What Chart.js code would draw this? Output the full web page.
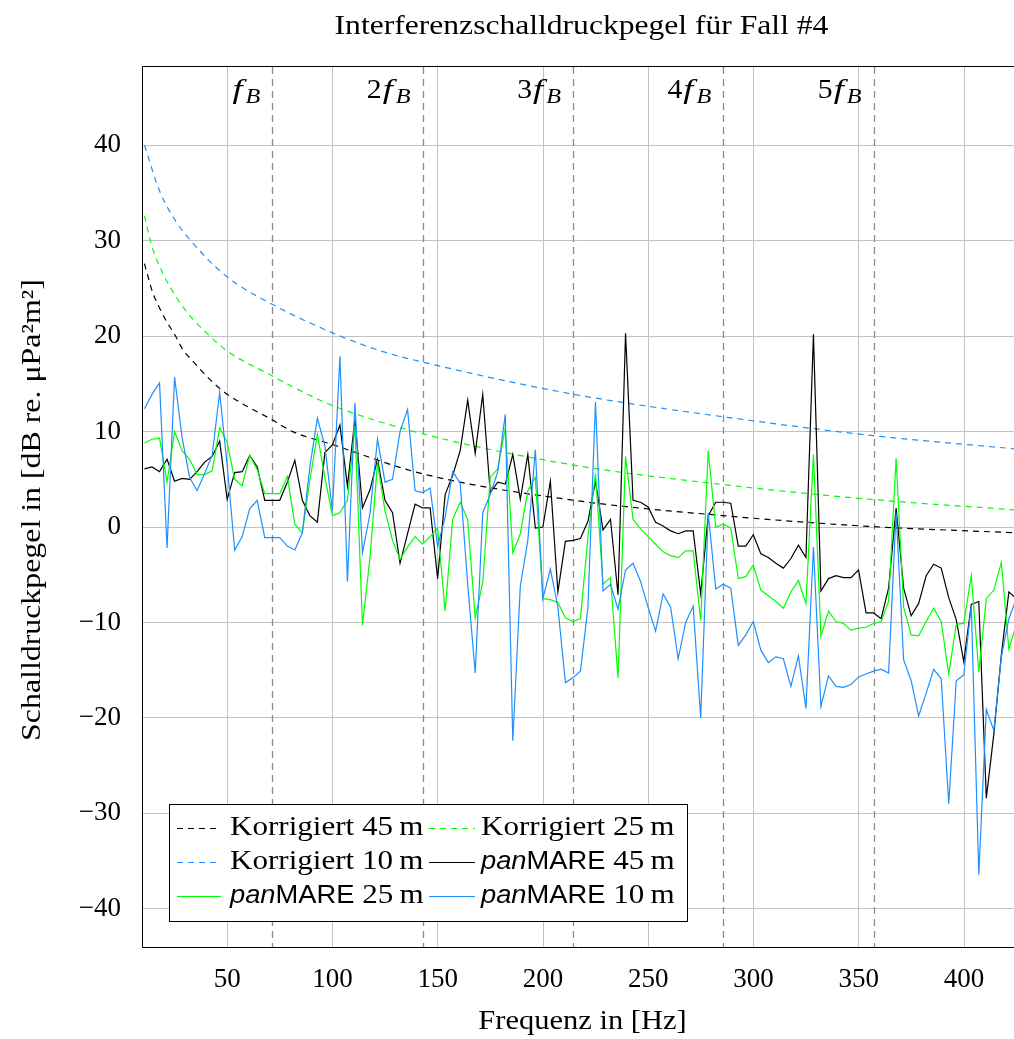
<!DOCTYPE html>
<html>
<head>
<meta charset="utf-8">
<script src="https://cdn.jsdelivr.net/npm/chart.js@4/dist/chart.umd.min.js"></script>
<style>
  html, body { margin: 0; padding: 0; background: #ffffff; }
  canvas { display: block; }
</style>
</head>
<body>
<canvas id="chart" width="1014" height="1039"></canvas>
<script>
// ---- texts ----
const titleText = 'Interferenzschalldruckpegel für Fall #4';
const xTitle = 'Frequenz in [Hz]';
const yTitle = 'Schalldruckpegel in [dB re. μPa²m²]';

// ---- frequency bins of the panMARE spectra [Hz] ----
const freq = [
  10.71, 14.28, 17.85, 21.42, 24.99, 28.56, 32.13, 35.70, 39.27, 42.84,
  46.41, 49.98, 53.55, 57.12, 60.69, 64.26, 67.83, 71.40, 74.97, 78.54,
  82.11, 85.68, 89.25, 92.82, 96.39, 99.96, 103.53, 107.10, 110.67, 114.24,
  117.81, 121.38, 124.95, 128.52, 132.09, 135.66, 139.23, 142.80, 146.37, 149.94,
  153.51, 157.08, 160.65, 164.22, 167.79, 171.36, 174.93, 178.50, 182.07, 185.64,
  189.21, 192.78, 196.35, 199.92, 203.49, 207.06, 210.63, 214.20, 217.77, 221.34,
  224.91, 228.48, 232.05, 235.62, 239.19, 242.76, 246.33, 249.90, 253.47, 257.04,
  260.61, 264.18, 267.75, 271.32, 274.89, 278.46, 282.03, 285.60, 289.17, 292.74,
  296.31, 299.88, 303.45, 307.02, 310.59, 314.16, 317.73, 321.30, 324.87, 328.44,
  332.01, 335.58, 339.15, 342.72, 346.29, 349.86, 353.43, 357.00, 360.57, 364.14,
  367.71, 371.28, 374.85, 378.42, 381.99, 385.56, 389.13, 392.70, 396.27, 399.84,
  403.41, 406.98, 410.55, 414.12, 417.69, 421.26, 424.83
];

// ---- panMARE levels [dB] ----
const panmare45 = [
  6.1, 6.3, 5.8, 7.1, 4.8, 5.1, 5.0, 5.8, 6.8, 7.4,
  9.0, 2.9, 5.7, 5.8, 7.5, 6.3, 2.8, 2.8, 2.8, 4.7,
  7.0, 2.8, 1.2, 0.5, 7.8, 8.6, 10.7, 4.3, 11.3, 2.0,
  3.9, 7.1, 2.8, 1.5, -3.8, -0.7, 2.4, 2.0, 2.0, -5.4,
  3.4, 5.4, 8.0, 13.3, 7.7, 13.9, 3.6, 4.7, 4.5, 7.6,
  2.9, 7.6, -0.1, 0.0, 4.8, -6.8, -1.5, -1.4, -1.2, 0.6,
  4.8, -0.3, 0.8, -7.1, 20.3, 2.8, 2.6, 2.1, 0.5, 0.1,
  -0.4, -0.7, -0.4, -0.4, -7.0, 1.2, 2.6, 2.6, 2.5, -2.0,
  -2.0, -0.8, -2.8, -3.2, -3.8, -4.3, -3.3, -1.9, -3.2, 20.2,
  -6.7, -5.4, -5.1, -5.3, -5.3, -4.5, -9.0, -9.0, -9.6, -6.4,
  2.0, -6.4, -9.3, -8.0, -5.1, -3.9, -4.3, -7.4, -9.7, -14.1,
  -8.1, -7.8, -28.4, -21.7, -13.4, -6.8, -7.5
];
const panmare25 = [
  8.8, 9.2, 9.3, 4.7, 10.0, 8.0, 7.1, 5.5, 5.5, 5.9,
  10.4, 8.9, 5.0, 4.3, 7.5, 6.0, 3.5, 3.5, 3.5, 5.3,
  0.3, -0.6, 4.9, 9.7, 5.2, 1.2, 1.5, 2.8, 10.6, -10.3,
  -3.2, 6.7, 1.7, -1.4, -3.4, -2.1, -1.0, -1.8, -1.0, -0.1,
  -8.8, 0.8, 2.6, 0.8, -9.5, -5.8, 5.2, 6.1, 10.4, -2.7,
  -0.7, 3.8, 5.2, -7.5, -7.6, -7.9, -9.5, -9.9, -9.6, -1.0,
  5.6, -6.0, -5.3, -15.8, 7.4, 0.8, -0.2, -1.0, -1.8, -2.6,
  -3.0, -3.2, -2.5, -2.5, -9.8, 8.0, 0.0, 0.3, -0.1, -5.4,
  -5.2, -4.0, -6.6, -7.2, -7.8, -8.5, -6.8, -5.6, -8.0, 7.6,
  -11.4, -8.8, -9.9, -10.1, -10.8, -10.6, -10.5, -10.1, -9.9, -7.8,
  7.2, -8.4, -11.3, -11.4, -9.9, -8.5, -9.9, -15.4, -10.2, -10.1,
  -5.1, -15.2, -7.5, -6.6, -3.7, -12.8, -10.2
];
const panmare10 = [
  12.4, 13.9, 15.1, -2.2, 15.7, 9.4, 5.2, 3.8, 5.6, 7.5,
  14.1, 6.5, -2.4, -1.0, 1.9, 2.8, -1.1, -1.1, -1.1, -2.0,
  -2.4, -0.6, 6.3, 11.4, 8.5, 1.7, 17.9, -5.7, 13.0, -2.7,
  1.4, 9.2, 4.7, 5.0, 10.0, 12.3, 3.8, 3.6, 4.1, -2.0,
  1.0, 5.8, 4.6, -6.0, -15.3, 1.5, 3.4, 5.8, 11.8, -22.4,
  -6.2, -1.4, 8.1, -7.5, -4.4, -8.4, -16.3, -15.8, -15.1, -8.4,
  13.1, -6.7, -6.0, -8.6, -4.5, -3.8, -5.7, -8.4, -10.9, -7.0,
  -8.4, -13.8, -10.0, -8.3, -20.0, 1.5, -6.5, -6.0, -6.4, -12.4,
  -11.3, -9.9, -12.9, -14.2, -13.6, -13.8, -16.7, -13.5, -19.0, -2.1,
  -18.8, -15.6, -16.7, -16.8, -16.5, -15.7, -15.4, -15.1, -14.9, -15.3,
  1.5, -13.9, -16.1, -19.8, -17.4, -14.9, -15.9, -29.0, -16.1, -15.5,
  -8.2, -36.4, -19.1, -21.3, -13.6, -9.6, -7.5
];

// ---- corrected levels (smooth curves) ----
const korr45Freq  = [10.7, 12.3, 14.7, 17.1, 21.0, 25.0, 28.9, 33.6, 41.6, 49.4, 57.4, 70.8, 81.1, 99.2, 142.4, 214.7, 285.2, 352.3, 423.7];
const korr45Level = [27.6, 26.3, 24.5, 23.3, 21.6, 20.2, 18.6, 17.4, 15.5, 14.0, 12.9, 11.3, 10.0, 8.7, 5.6, 2.8, 1.2, 0.1, -0.6];
const korr25Freq  = [10.7, 14.7, 19.4, 24.1, 28.9, 34.4, 39.9, 44.7, 50.2, 70.8, 81.1, 99.2, 142.4, 214.3, 287.4, 355.8, 423.7];
const korr25Level = [32.6, 29.1, 26.6, 24.7, 23.1, 21.6, 20.4, 19.4, 18.4, 15.9, 14.7, 12.8, 9.8, 6.5, 4.4, 2.9, 1.8];
const korr10Freq  = [10.7, 17.9, 25.7, 32.3, 49.4, 70.0, 101.6, 123.7, 148.3, 214.7, 287.4, 355.8, 423.7];
const korr10Level = [40.0, 35.2, 32.0, 30.1, 26.3, 23.5, 20.2, 18.4, 17.0, 13.9, 11.5, 9.6, 8.2];

// ---- blade frequency harmonics ----
const harmonicOrder = [1, 2, 3, 4, 5];
const harmonicFreq  = [71.4, 142.8, 214.2, 285.6, 357.0];

// ---- axis ticks ----
const xTicks = [50, 100, 150, 200, 250, 300, 350, 400];
const yTicks = [-40, -30, -20, -10, 0, 10, 20, 30, 40];

// ---- styling ----
const SERIF = '"Liberation Serif", "Times New Roman", serif';
const SANS = '"Liberation Sans", Arial, sans-serif';
const FS = 27;
const STRETCH = 1.15;          // widen the serif face a little
const BLACK = '#000000';
const GREEN = '#00ff00';
const BLUE = '#1e8fff';

const toPoints = (xs, ys) => xs.map((x, i) => ({ x, y: ys[i] }));
const fmt = v => (v < 0 ? '\u2212' + Math.abs(v) : String(v));

const seriesDefs = [
  { label: 'Korrigiert 45\u2009m', xs: korr45Freq, ys: korr45Level, color: BLACK, dash: [6, 5], smooth: true },
  { label: 'Korrigiert 25\u2009m', xs: korr25Freq, ys: korr25Level, color: GREEN, dash: [6, 5], smooth: true },
  { label: 'Korrigiert 10\u2009m', xs: korr10Freq, ys: korr10Level, color: BLUE, dash: [6, 5], smooth: true },
  { label: 'panMARE 45\u2009m', xs: freq, ys: panmare45, color: BLACK, dash: [], smooth: false },
  { label: 'panMARE 25\u2009m', xs: freq, ys: panmare25, color: GREEN, dash: [], smooth: false },
  { label: 'panMARE 10\u2009m', xs: freq, ys: panmare10, color: BLUE, dash: [], smooth: false }
];

const datasets = seriesDefs.map((s, i) => ({
  label: s.label,
  data: toPoints(s.xs, s.ys),
  borderColor: s.color,
  backgroundColor: s.color,
  borderWidth: 1.2,
  borderDash: s.dash,
  pointRadius: 0,
  fill: false,
  tension: 0,
  cubicInterpolationMode: s.smooth ? 'monotone' : 'default',
  clip: 0,
  order: seriesDefs.length - 1 - i
}));

// split a legend label into its typographic parts
function labelParts(label) {
  if (label.startsWith('panMARE')) {
    return [
      { t: 'pan', f: `italic ${FS - 1}px ${SANS}`, sx: 1.05 },
      { t: 'MARE', f: `${FS - 1}px ${SANS}`, sx: 1.05 },
      { t: label.slice(7), f: `${FS}px ${SERIF}`, sx: STRETCH }
    ];
  }
  return [{ t: label, f: `${FS}px ${SERIF}`, sx: STRETCH }];
}

// draw text parts left to right, each widened by its own factor
function drawParts(ctx, parts, x, y) {
  let cx = x;
  parts.forEach(p => {
    ctx.font = p.f;
    const w = ctx.measureText(p.t).width * p.sx;
    ctx.save();
    ctx.translate(cx, y + (p.dy || 0));
    ctx.scale(p.sx, 1);
    ctx.textAlign = 'left';
    ctx.fillText(p.t, 0, 0);
    ctx.restore();
    cx += w + (p.gap || 0);
  });
  return cx - x;
}

function partsWidth(ctx, parts) {
  let w = 0;
  parts.forEach(p => { ctx.font = p.f; w += ctx.measureText(p.t).width * p.sx + (p.gap || 0); });
  return w;
}

function drawCentered(ctx, text, cx, cy, font, sx, rotation) {
  ctx.save();
  ctx.translate(cx, cy);
  if (rotation) ctx.rotate(rotation);
  ctx.scale(sx, 1);
  ctx.font = font;
  ctx.textAlign = 'center';
  ctx.textBaseline = 'middle';
  ctx.fillText(text, 0, 0);
  ctx.restore();
}

const decor = {
  id: 'decor',
  beforeDatasetsDraw(chart) {
    const { ctx, chartArea: ca, scales: { x } } = chart;
    ctx.save();
    ctx.beginPath();
    ctx.rect(ca.left, ca.top, ca.right - ca.left, ca.bottom - ca.top);
    ctx.clip();
    ctx.strokeStyle = '#8a8a8a';
    ctx.lineWidth = 1.3;
    ctx.setLineDash([7, 5]);
    harmonicFreq.forEach(f => {
      const px = Math.round(x.getPixelForValue(f)) + 0.5;
      ctx.beginPath();
      ctx.moveTo(px, ca.top);
      ctx.lineTo(px, ca.bottom);
      ctx.stroke();
    });
    ctx.restore();
  },
  afterDatasetsDraw(chart) {
    const { ctx, chartArea: ca, scales: { x } } = chart;
    ctx.save();
    ctx.fillStyle = BLACK;

    // harmonic labels n·f_B
    ctx.textBaseline = 'alphabetic';
    harmonicFreq.forEach((f, i) => {
      const n = harmonicOrder[i];
      const parts = [];
      if (n > 1) parts.push({ t: String(n), f: `${FS}px ${SERIF}`, sx: 1.1, gap: 1 });
      parts.push({ t: 'f', f: `italic ${FS + 1}px ${SERIF}`, sx: 1.3, gap: 3 });
      parts.push({ t: 'B', f: `italic ${FS - 5}px ${SERIF}`, sx: 1.1, dy: 5 });
      const w = partsWidth(ctx, parts);
      drawParts(ctx, parts, x.getPixelForValue(f) - 12 - w, 98);
    });

    // legend
    const box = { left: 169.5, top: 804.5, right: 687.5, bottom: 921.5 };
    ctx.fillStyle = '#ffffff';
    ctx.fillRect(box.left, box.top, box.right - box.left, box.bottom - box.top);
    ctx.strokeStyle = BLACK;
    ctx.lineWidth = 1;
    ctx.setLineDash([]);
    ctx.strokeRect(box.left, box.top, box.right - box.left, box.bottom - box.top);
    const rows = [828, 862, 896];
    const cols = [{ x0: 177, x1: 221, tx: 230 }, { x0: 429, x1: 475, tx: 481 }];
    chart.data.datasets.forEach((ds, i) => {
      const c = cols[i % 2];
      const y = rows[Math.floor(i / 2)];
      ctx.strokeStyle = ds.borderColor;
      ctx.lineWidth = ds.borderWidth;
      ctx.setLineDash(ds.borderDash);
      ctx.beginPath();
      ctx.moveTo(c.x0, y + 0.5);
      ctx.lineTo(c.x1, y + 0.5);
      ctx.stroke();
      ctx.setLineDash([]);
      ctx.fillStyle = BLACK;
      ctx.textBaseline = 'middle';
      drawParts(ctx, labelParts(ds.label), c.tx, y);
    });

    // axis frame
    ctx.strokeStyle = BLACK;
    ctx.lineWidth = 1;
    ctx.beginPath();
    ctx.moveTo(ca.right + 0.5, ca.top - 0.5);
    ctx.lineTo(ca.left - 0.5, ca.top - 0.5);
    ctx.lineTo(ca.left - 0.5, ca.bottom + 0.5);
    ctx.lineTo(ca.right + 0.5, ca.bottom + 0.5);
    ctx.stroke();

    // title and axis titles
    ctx.fillStyle = BLACK;
    const midX = (ca.left + ca.right) / 2;
    const midY = (ca.top + ca.bottom) / 2;
    drawCentered(ctx, titleText, midX + 3, 27, `${FS}px ${SERIF}`, 1.17, 0);
    drawCentered(ctx, xTitle, midX + 4, 1022, `${FS}px ${SERIF}`, 1.13, 0);
    drawCentered(ctx, yTitle, 33, midY + 3, `${FS}px ${SERIF}`, 1.18, -Math.PI / 2);
    ctx.restore();
  }
};

const tickFont = { family: SERIF, size: FS };

new Chart(document.getElementById('chart'), {
  type: 'line',
  data: { datasets },
  plugins: [decor],
  options: {
    responsive: false,
    animation: false,
    devicePixelRatio: 1,
    layout: { padding: { top: 67, left: 0, right: 0, bottom: 0 } },
    plugins: {
      legend: { display: false },
      title: { display: false },
      tooltip: { enabled: false }
    },
    scales: {
      x: {
        type: 'linear',
        min: 10,
        max: 423.7,
        afterBuildTicks: s => { s.ticks = xTicks.map(v => ({ value: v })); },
        afterFit: s => { s.height = 92; },
        grid: { color: '#c2c2c2', lineWidth: 1, drawTicks: false },
        border: { display: false },
        ticks: { color: BLACK, font: tickFont, padding: 17, maxRotation: 0, autoSkip: false, callback: v => fmt(v) },
        title: { display: false }
      },
      y: {
        type: 'linear',
        min: -44,
        max: 48.2,
        afterBuildTicks: s => { s.ticks = yTicks.map(v => ({ value: v })); },
        afterFit: s => { s.width = 143; },
        grid: { color: '#c2c2c2', lineWidth: 1, drawTicks: false },
        border: { display: false },
        ticks: { color: BLACK, font: tickFont, padding: 22, autoSkip: false, callback: v => fmt(v) },
        title: { display: false }
      }
    }
  }
});
</script>
</body>
</html>
